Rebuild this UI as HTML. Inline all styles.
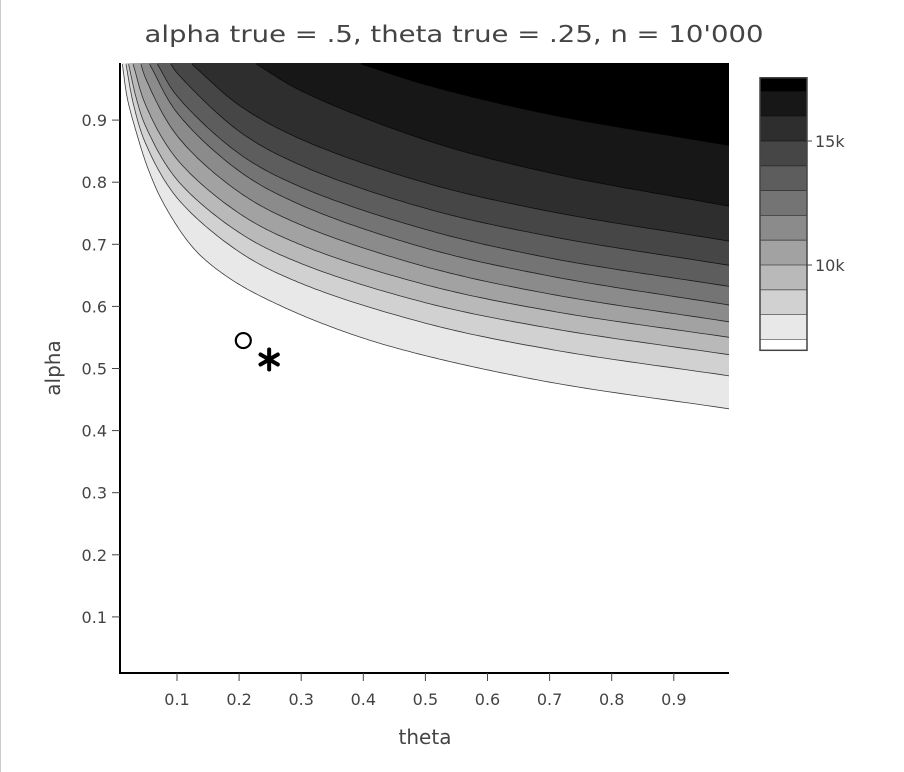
<!DOCTYPE html>
<html><head><meta charset="utf-8"><style>
html,body{margin:0;padding:0;background:#fff;width:904px;height:772px;overflow:hidden}
svg text{font-family:"DejaVu Sans","Liberation Sans",sans-serif;fill:#444}
</style></head><body>
<svg id="chart" width="904" height="772" xmlns="http://www.w3.org/2000/svg">
<line x1="0.5" y1="0" x2="0.5" y2="772" stroke="#ccc"/>
<text x="454" y="42" font-size="23" text-anchor="middle" textLength="619" lengthAdjust="spacingAndGlyphs">alpha true = .5, theta true = .25, n = 10'000</text>
<g id="fills"></g>
<g id="lines"></g>
<g id="axes"></g>
<g id="markers"></g>
<g id="cbar"></g>
<text x="425" y="744" font-size="20" text-anchor="middle">theta</text>
<text x="0" y="0" font-size="20" text-anchor="middle" transform="translate(60,368) rotate(-90)">alpha</text>
</svg>
<script>
const levels = [7000, 8000, 9000, 10000, 11000, 12000, 13000, 14000, 15000, 16000, 17000];
const zMin = 6560;
const zMax = 17550;
const contourTheta = [
 [0.012, 0.02, 0.032, 0.054, 0.081, 0.129, 0.188, 0.269, 0.376, 0.483, 0.7, 0.99],
 [0.0178, 0.03, 0.05, 0.1, 0.2, 0.3, 0.5, 0.7, 0.99],
 [0.022, 0.035, 0.05, 0.1, 0.2, 0.3, 0.5, 0.7, 0.99],
 [0.0293, 0.05, 0.1, 0.2, 0.3, 0.5, 0.7, 0.99],
 [0.0418, 0.05, 0.1, 0.2, 0.3, 0.5, 0.7, 0.99],
 [0.0559, 0.1, 0.2, 0.3, 0.5, 0.7, 0.99],
 [0.0684, 0.1, 0.2, 0.3, 0.5, 0.7, 0.99],
 [0.09, 0.1, 0.2, 0.3, 0.5, 0.7, 0.99],
 [0.124, 0.2, 0.3, 0.5, 0.7, 0.99],
 [0.228, 0.3, 0.5, 0.7, 0.99],
 [0.397, 0.5, 0.7, 0.99]
];
const contourAlpha = [
 [0.99, 0.935, 0.889, 0.82, 0.761, 0.691, 0.643, 0.60, 0.557, 0.525, 0.478, 0.435],
 [0.99, 0.925, 0.861, 0.775, 0.688, 0.637, 0.573, 0.531, 0.488],
 [0.99, 0.933, 0.889, 0.804, 0.719, 0.669, 0.606, 0.565, 0.522],
 [0.99, 0.923, 0.837, 0.75, 0.699, 0.635, 0.593, 0.550],
 [0.99, 0.966, 0.875, 0.784, 0.731, 0.664, 0.62, 0.575],
 [0.99, 0.912, 0.818, 0.763, 0.694, 0.649, 0.602],
 [0.99, 0.939, 0.846, 0.792, 0.724, 0.678, 0.632],
 [0.99, 0.976, 0.882, 0.827, 0.758, 0.713, 0.666],
 [0.99, 0.924, 0.869, 0.799, 0.753, 0.705],
 [0.99, 0.947, 0.868, 0.815, 0.761],
 [0.99, 0.957, 0.909, 0.859]
];
const xTicks = [0.1,0.2,0.3,0.4,0.5,0.6,0.7,0.8,0.9];
const yTicks = [0.1,0.2,0.3,0.4,0.5,0.6,0.7,0.8,0.9];
const cbTicks = [10000, 15000];
const cbTickLabels = ["10k", "15k"];
const mle = [0.21, 0.545];
const truth = [0.25, 0.5];

const NS = "http://www.w3.org/2000/svg";
const X0 = 120, X1 = 729, Y0 = 63, Y1 = 673;
function xs(t){ return 114.9 + t*621; }
function ys(a){ return 679 - a*621; }
function cy(v){ return 265 - (v-10000)*0.0248; }
function mk(tag, attrs, parent){ const e=document.createElementNS(NS,tag); for(const k in attrs) e.setAttribute(k,attrs[k]); parent.appendChild(e); return e; }
function bandColor(i){ const g=Math.round(255 - 255*i/11); return `rgb(${g},${g},${g})`; }

function sample(th, al){
  const P = th.map((t,i)=>[xs(t), ys(al[i])]);
  const n = P.length;
  const ext = [[2*P[0][0]-P[1][0], 2*P[0][1]-P[1][1]]].concat(P).concat([[2*P[n-1][0]-P[n-2][0], 2*P[n-1][1]-P[n-2][1]]]);
  const out = [];
  function tj(ti,a,b){ return ti + Math.pow(Math.hypot(b[0]-a[0], b[1]-a[1]),0.5); }
  for(let i=0;i<n-1;i++){
    const p0=ext[i],p1=ext[i+1],p2=ext[i+2],p3=ext[i+3];
    const t0=0,t1=tj(t0,p0,p1),t2=tj(t1,p1,p2),t3=tj(t2,p2,p3);
    for(let s=0;s<24;s++){
      const t=t1+(t2-t1)*s/24;
      const L=(a,b,ta,tb)=>[(tb-t)/(tb-ta)*a[0]+(t-ta)/(tb-ta)*b[0],(tb-t)/(tb-ta)*a[1]+(t-ta)/(tb-ta)*b[1]];
      const A1=L(p0,p1,t0,t1),A2=L(p1,p2,t1,t2),A3=L(p2,p3,t2,t3);
      const B1=L(A1,A2,t0,t2),B2=L(A2,A3,t1,t3);
      out.push(L(B1,B2,t1,t2));
    }
  }
  out.push(P[n-1]);
  return out;
}

const svg = document.getElementById('chart');
const defs = mk('defs',{},svg);
const cp = mk('clipPath',{id:'plotclip'},defs);
mk('rect',{x:X0,y:Y0,width:X1-X0,height:Y1-Y0},cp);
const fills = document.getElementById('fills');
fills.setAttribute('clip-path','url(#plotclip)');
const lines = document.getElementById('lines');
lines.setAttribute('clip-path','url(#plotclip)');

levels.forEach((lv,i)=>{
  const pts = sample(contourTheta[i], contourAlpha[i]);
  const d = pts.map((p,j)=>(j?'L':'M')+p[0].toFixed(1)+' '+p[1].toFixed(1)).join(' ');
  const f = mk('path',{d: d+` L ${X1+5} ${pts[pts.length-1][1].toFixed(1)} L ${X1+5} ${Y0-5} L ${pts[0][0].toFixed(1)} ${Y0-5} Z`, fill:bandColor(i+1)},fills);
  
  
  const l = mk('path',{d:d, fill:'none', stroke:'#000', 'stroke-opacity':'0.75', 'stroke-width':'0.8'},lines);
  
  
});

const axes = document.getElementById('axes');
const ya = mk('line',{x1:X0,y1:Y0,x2:X0,y2:Y1+1,stroke:'#000','stroke-width':2},axes);


const xa = mk('line',{x1:X0-1,y1:Y1,x2:X1,y2:Y1,stroke:'#000','stroke-width':2},axes);


xTicks.forEach(t=>{
  const x=xs(t);
  const tk = mk('line',{x1:x,y1:Y1,x2:x,y2:Y1+8,stroke:'#444','stroke-width':1},axes);
  
  
  const tx = mk('text',{x:x,y:705,'font-size':16,'text-anchor':'middle'},axes);
  tx.textContent=t.toFixed(1);
  
  
});
yTicks.forEach(t=>{
  const y=ys(t);
  const tk = mk('line',{x1:X0-8,y1:y,x2:X0,y2:y,stroke:'#444','stroke-width':1},axes);
  
  
  const tx = mk('text',{x:107,y:y+6,'font-size':16,'text-anchor':'end'},axes);
  tx.textContent=t.toFixed(1);
  
  
});

const mk2 = document.getElementById('markers');
const c = mk('circle',{cx:xs(mle[0])-2,cy:ys(mle[1]),r:7.5,fill:'none',stroke:'#000','stroke-width':2.2},mk2);


const sg = mk('g',{transform:`translate(${xs(truth[0])-1},${ys(truth[1])-9})`},mk2);


[0,60,120].forEach(a=>{
  mk('line',{x1:0,y1:-10,x2:0,y2:10,stroke:'#000','stroke-width':4,'stroke-linecap':'round',transform:`rotate(${a})`},sg);
});

const cb = document.getElementById('cbar');
const bounds = [zMin].concat(levels).concat([zMax]);
for(let i=0;i<bounds.length-1;i++){
  const yTop=cy(bounds[i+1]), yBot=cy(bounds[i]);
  const r = mk('rect',{x:760,y:yTop,width:47,height:yBot-yTop,fill:bandColor(i)},cb);
  
  
  if(i>0){ const l=mk('line',{x1:760,y1:yBot,x2:807,y2:yBot,stroke:'#000','stroke-opacity':0.6,'stroke-width':0.8},cb);
    
     }
}
const frame = mk('rect',{x:760,y:cy(zMax),width:47,height:cy(zMin)-cy(zMax),fill:'none',stroke:'#444','stroke-width':1.5},cb);


cbTicks.forEach((v,i)=>{
  const y=cy(v);
  const tk = mk('line',{x1:807,y1:y,x2:812,y2:y,stroke:'#444'},cb);
  
  
  const tx = mk('text',{x:815,y:y+6,'font-size':16},cb);
  tx.textContent=cbTickLabels[i];
  
  
});
</script>
</body></html>
